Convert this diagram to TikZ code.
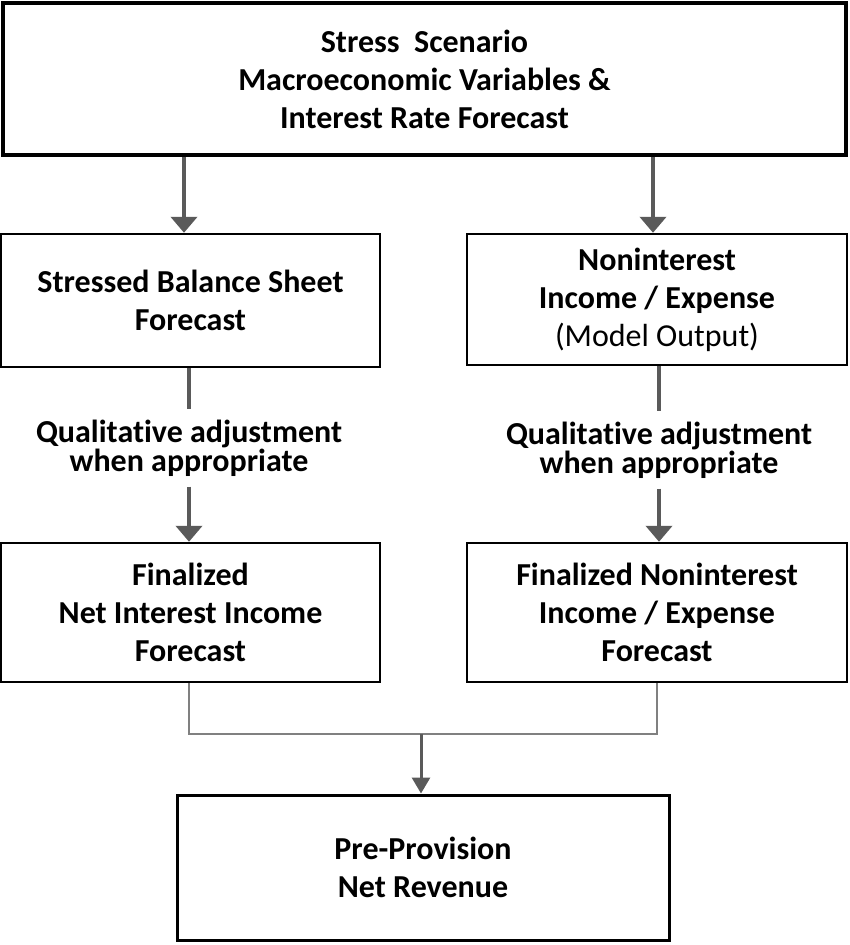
\documentclass[tikz,border=0pt]{standalone}
\usepackage{fontspec}
\setmainfont{Carlito}[Ligatures=NoCommon,Contextuals=NoAlternate]
\usetikzlibrary{arrows.meta}
\definecolor{arrowgray}{RGB}{90,90,90}
\definecolor{mergegray}{RGB}{128,128,128}
\begin{document}
\begin{tikzpicture}[x=0.5pt,y=-0.5pt, line join=miter,
    box/.style={draw=black,line width=1.2pt,fill=white,inner sep=0pt,align=center,
        font=\fontsize{16}{19}\selectfont\bfseries},
    qual/.style={inner xsep=0pt,inner ysep=5pt,align=center,
        font=\fontsize{16}{14.5}\selectfont\bfseries},
    flow/.style={draw=arrowgray,line width=2pt,-{Triangle[width=13pt,length=8pt]}},
    link/.style={draw=arrowgray,line width=2pt}]
    \useasboundingbox (0,0) rectangle (849,945);
    % boxes
    \node[box,line width=2pt,minimum width=421.5pt,minimum height=76pt] (scen) at (424.5,79)
        {Stress\ \ Scenario\\Macroeconomic Variables \&\\Interest Rate Forecast};
    \node[box,minimum width=189.5pt,minimum height=66.5pt] (bal) at (190.5,300.5)
        {Stressed Balance Sheet\\Forecast};
    \node[box,minimum width=190pt,minimum height=65.5pt] (nie) at (657,299.5)
        {Noninterest\\Income / Expense\\{\mdseries(Model Output)}};
    \node[box,minimum width=189.5pt,minimum height=69.5pt] (fnii) at (190.5,612.5)
        {Finalized\\Net Interest Income\\Forecast};
    \node[box,minimum width=190pt,minimum height=69.5pt] (fnie) at (657,612.5)
        {Finalized Noninterest\\Income / Expense\\Forecast};
    \node[box,line width=1.5pt,minimum width=246pt,minimum height=72.5pt] (ppnr) at (423,867.5)
        {Pre-Provision\\Net Revenue};
    % qualitative adjustment labels
    \node[qual] (qbal) at (189,448) {Qualitative adjustment\\when appropriate};
    \node[qual] (qnie) at (659,450) {Qualitative adjustment\\when appropriate};
    \coordinate (m) at (421,734);
    % connectors
    \draw[flow] (scen.south -| 184,0) -- (bal.north -| 184,0);
    \draw[flow] (scen.south -| 653,0) -- (nie.north -| 653,0);
    \draw[link] (bal.south -| qbal) -- (qbal);
    \draw[flow] (qbal) -- (fnii.north -| qbal);
    \draw[link] (nie.south -| qnie) -- (qnie);
    \draw[flow] (qnie) -- (fnie.north -| qnie);
    \draw[draw=mergegray,line width=1.2pt] (fnii.south -| 189,0) |- (m) -| (fnie.south -| 657,0);
    \draw[flow,line width=1.5pt,-{Triangle[width=9pt,length=8pt]}] (m) -- (ppnr.north -| m);
\end{tikzpicture}
\end{document}
